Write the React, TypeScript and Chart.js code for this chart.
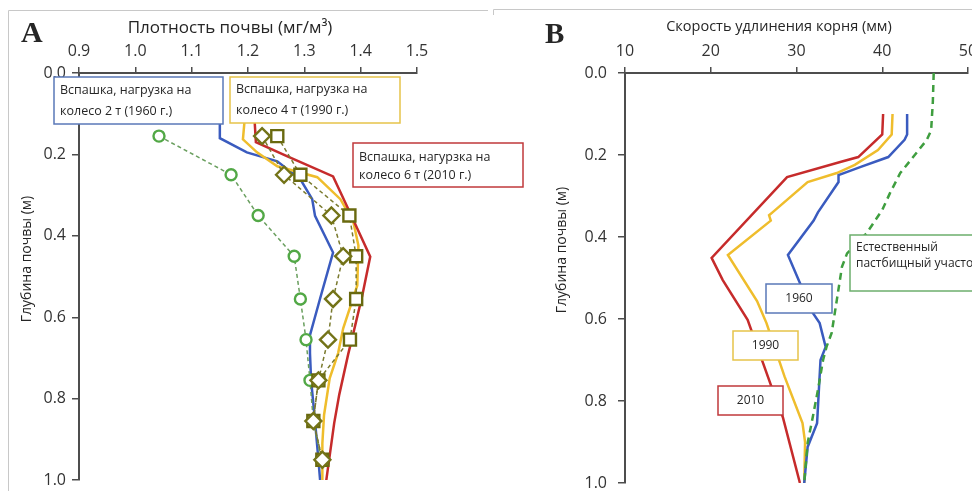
import React, { useEffect, useRef } from 'react';
import { Chart, registerables } from 'chart.js';

Chart.register(...registerables);

// ---------- Panel A: soil density (Mg/m3) vs depth (m) ----------
const densityTicks = [0.9, 1.0, 1.1, 1.2, 1.3, 1.4, 1.5];
const depthTicks = [0.0, 0.2, 0.4, 0.6, 0.8, 1.0];

const depth1960A = [0.10, 0.16, 0.195, 0.217, 0.261, 0.31, 0.351, 0.441, 0.554, 0.644, 0.688, 0.755, 0.855, 0.95, 1.0];
const density1960 = [1.150, 1.150, 1.198, 1.252, 1.293, 1.314, 1.319, 1.351, 1.328, 1.310, 1.310, 1.312, 1.319, 1.325, 1.328];

const depth1990A = [0.10, 0.163, 0.195, 0.229, 0.256, 0.31, 0.366, 0.424, 0.522, 0.627, 0.688, 0.75, 0.84, 0.91, 1.0];
const density1990 = [1.195, 1.191, 1.216, 1.252, 1.323, 1.364, 1.387, 1.396, 1.394, 1.369, 1.360, 1.345, 1.335, 1.332, 1.332];

const depth2010A = [0.10, 0.17, 0.205, 0.254, 0.334, 0.451, 0.546, 0.639, 0.69, 0.79, 0.86, 1.0];
const density2010 = [1.211, 1.214, 1.270, 1.351, 1.378, 1.417, 1.403, 1.387, 1.378, 1.362, 1.353, 1.339];

const markerDepths = [0.155, 0.25, 0.35, 0.45, 0.555, 0.655, 0.755, 0.855, 0.95];
const circleDensity = [1.042, 1.170, 1.218, 1.282, 1.293, 1.303, 1.310, 1.316, 1.330];
const diamondDensity = [1.225, 1.264, 1.348, 1.369, 1.351, 1.342, 1.325, 1.316, 1.332];
const squareDensity = [1.252, 1.293, 1.380, 1.392, 1.392, 1.381, 1.325, 1.316, 1.332];

// ---------- Panel B: root elongation (mm) vs depth (m) ----------
const rootTicks = [10, 20, 30, 40, 50];

const depthPasture = [0.0, 0.07, 0.14, 0.163, 0.205, 0.244, 0.293, 0.334, 0.39, 0.44, 0.473, 0.554, 0.634, 0.668, 0.70, 0.773, 0.839, 0.902, 1.0];
const rootPasture = [46.0, 45.9, 45.7, 45.2, 43.6, 42.1, 40.9, 40.0, 38.2, 35.9, 35.3, 34.7, 34.1, 33.5, 33.1, 32.5, 31.9, 31.3, 30.9];

const depth1960B = [0.10, 0.15, 0.163, 0.205, 0.229, 0.249, 0.266, 0.34, 0.36, 0.444, 0.512, 0.585, 0.61, 0.668, 0.70, 0.854, 0.912, 1.0];
const root1960 = [42.9, 42.9, 42.6, 40.7, 37.5, 34.9, 34.9, 32.5, 32.0, 29.0, 30.4, 31.9, 32.7, 33.4, 32.8, 32.4, 31.3, 30.9];

const depth1990B = [0.10, 0.15, 0.188, 0.224, 0.244, 0.266, 0.34, 0.347, 0.36, 0.444, 0.556, 0.61, 0.74, 0.854, 0.90, 1.0];
const root1990 = [41.2, 41.1, 39.5, 36.8, 34.7, 31.3, 27.2, 26.8, 27.0, 22.0, 25.4, 26.5, 28.6, 30.7, 31.0, 30.9];

const depth2010B = [0.10, 0.15, 0.205, 0.217, 0.254, 0.451, 0.505, 0.602, 0.766, 0.839, 1.0];
const root2010 = [40.1, 40.0, 37.2, 35.1, 28.9, 20.1, 21.4, 24.3, 27.1, 28.4, 30.4];

// ---------- Text ----------
const titleA = 'Плотность почвы (мг/м³)';
const titleB = 'Скорость удлинения корня (мм)';
const depthTitle = 'Глубина почвы (м)';
const label1960A = ['Вспашка, нагрузка на', 'колесо 2 т (1960 г.)'];
const label1990A = ['Вспашка, нагрузка на', 'колесо 4 т (1990 г.)'];
const label2010A = ['Вспашка, нагурзка на', 'колесо 6 т (2010 г.)'];
const labelPasture = ['Естественный', 'пастбищный участок'];

const FONT = '"Open Sans", "DejaVu Sans", sans-serif';
const SERIF = '"Liberation Serif", "DejaVu Serif", serif';
const BLUE = '#3a5bbf';
const YELLOW = '#efbd2c';
const RED = '#c62b2b';
const GREEN = '#52a846';
const OLIVE = '#69690f';
const AXIS = '#4d4d4d';

Chart.defaults.font.family = FONT;

const zip = (xs: number[], ys: number[]) => xs.map((x, i) => ({ x, y: ys[i] }));

type Box = { x: number; y: number; w: number; h: number; color: string; lines: string[]; ty: number[]; center?: boolean; size: number };
type Txt = { text: string; x: number; y: number; font: string; align: CanvasTextAlign; baseline: CanvasTextBaseline; rotate?: boolean };

function overlay(id: string, boxes: Box[], texts: Txt[], frame: (ctx: CanvasRenderingContext2D) => void) {
  return {
    id,
    afterDraw(chart: any) {
      const ctx: CanvasRenderingContext2D = chart.ctx;
      ctx.save();
      frame(ctx);
      for (const b of boxes) {
        ctx.fillStyle = '#ffffff';
        ctx.fillRect(b.x, b.y, b.w, b.h);
        ctx.strokeStyle = b.color;
        ctx.lineWidth = 1.5;
        ctx.strokeRect(b.x, b.y, b.w, b.h);
        ctx.fillStyle = '#262626';
        ctx.font = `${b.size}px ${FONT}`;
        ctx.textBaseline = 'middle';
        ctx.textAlign = b.center ? 'center' : 'left';
        b.lines.forEach((l, i) => ctx.fillText(l, b.center ? b.x + b.w / 2 : b.x + 6, b.ty[i]));
      }
      for (const t of texts) {
        ctx.save();
        ctx.fillStyle = '#262626';
        ctx.font = t.font;
        ctx.textAlign = t.align;
        ctx.textBaseline = t.baseline;
        ctx.translate(t.x, t.y);
        if (t.rotate) ctx.rotate(-Math.PI / 2);
        ctx.fillText(t.text, 0, 0);
        ctx.restore();
      }
      ctx.restore();
    },
  };
}

function scales(xmin: number, xmax: number, xTicks: number[], digits: number, yWidth: number, yPad: number) {
  return {
    x: {
      type: 'linear',
      position: 'top',
      min: xmin,
      max: xmax,
      afterBuildTicks: (s: any) => { s.ticks = xTicks.map((v) => ({ value: v })); },
      afterFit: (s: any) => { s.height = 73; s.paddingLeft = 0; s.paddingRight = 0; },
      ticks: { color: '#333', font: { size: 16, family: FONT }, padding: 6, maxRotation: 0, autoSkip: false,
        callback: (v: any) => Number(v).toFixed(digits) },
      grid: { drawOnChartArea: false, drawTicks: true, tickLength: 6, color: AXIS, lineWidth: 1.5 },
      border: { display: true, color: AXIS, width: 2 },
    },
    y: {
      type: 'linear',
      reverse: true,
      min: 0,
      max: 1,
      afterBuildTicks: (s: any) => { s.ticks = depthTicks.map((v) => ({ value: v })); },
      afterFit: (s: any) => { s.width = yWidth; s.paddingTop = 0; s.paddingBottom = 0; },
      ticks: { color: '#333', font: { size: 16, family: FONT }, padding: yPad, autoSkip: false,
        callback: (v: any) => Number(v).toFixed(1) },
      grid: { drawOnChartArea: false, drawTicks: true, tickLength: 7, color: AXIS, lineWidth: 1.5 },
      border: { display: true, color: AXIS, width: 2 },
    },
  };
}

const lineDs = (data: any, color: string, order: number, width = 2.5, dash: number[] = []) => ({
  data, borderColor: color, borderWidth: width, borderDash: dash, pointRadius: 0, showLine: true, order, tension: 0, fill: false,
});

const markerDs = (data: any, lineColor: string, color: string, style: string, radius: number, order: number) => ({
  data, borderColor: lineColor, borderWidth: 1.5, borderDash: [4, 3], showLine: true, order, tension: 0, fill: false,
  pointStyle: style, pointRadius: radius, pointBorderWidth: 2.4, pointBorderColor: color, pointBackgroundColor: '#ffffff',
});

export default function App() {
  const refA = useRef<HTMLCanvasElement>(null);
  const refB = useRef<HTMLCanvasElement>(null);

  useEffect(() => {
    document.body.style.margin = '0';
    const boxesA: Box[] = [
      { x: 54, y: 77, w: 169, h: 47, color: '#5a78b8', lines: label1960A, ty: [90, 111], size: 12.5 },
      { x: 230, y: 77, w: 170, h: 46, color: '#e6c34a', lines: label1990A, ty: [89, 110], size: 12.5 },
      { x: 353, y: 143, w: 170, h: 44, color: '#c0393b', lines: label2010A, ty: [157, 175], size: 12.5 },
    ];
    const textsA: Txt[] = [
      { text: 'A', x: 21, y: 42, font: `bold 30px ${SERIF}`, align: 'left', baseline: 'alphabetic' },
      { text: titleA, x: 230, y: 28, font: `17px ${FONT}`, align: 'center', baseline: 'middle' },
      { text: depthTitle, x: 27, y: 259, font: `14px ${FONT}`, align: 'center', baseline: 'middle', rotate: true },
    ];
    const frameA = (ctx: CanvasRenderingContext2D) => {
      ctx.strokeStyle = '#c8c8c8';
      ctx.lineWidth = 1;
      ctx.beginPath();
      ctx.moveTo(8.5, 491); ctx.lineTo(8.5, 10.5); ctx.lineTo(488, 10.5);
      ctx.stroke();
    };
    const chartA = new Chart(refA.current!, {
      type: 'scatter',
      data: {
        datasets: [
          markerDs(zip(circleDensity, markerDepths), '#6a9f5f', GREEN, 'circle', 5.5, 2),
          markerDs(zip(diamondDensity, markerDepths), '#7a7a2e', '#737318', 'rectRot', 8, 0),
          markerDs(zip(squareDensity, markerDepths), '#7a7a2e', OLIVE, 'rect', 8.5, 1),
          lineDs(zip(density1960, depth1960A), BLUE, 5),
          lineDs(zip(density1990, depth1990A), YELLOW, 4),
          lineDs(zip(density2010, depth2010A), RED, 3),
        ] as any,
      },
      options: {
        animation: false,
        responsive: false,
        maintainAspectRatio: false,
        events: [],
        layout: { padding: { left: 0, top: 0, right: 540 - 417, bottom: 8 } },
        plugins: { legend: { display: false }, tooltip: { enabled: false } },
        scales: scales(0.9, 1.5, densityTicks, 1, 79, 6) as any,
      },
      plugins: [overlay('ovA', boxesA, textsA, frameA)],
    });

    const off = 490;
    const boxesB: Box[] = [
      { x: 850 - off, y: 235, w: 140, h: 56, color: '#6cae6c', lines: labelPasture, ty: [248, 264], size: 12 },
      { x: 766 - off, y: 284, w: 66, h: 29, color: '#5a78b8', lines: ['1960'], ty: [299], center: true, size: 12 },
      { x: 733 - off, y: 331, w: 65, h: 29, color: '#e6c34a', lines: ['1990'], ty: [346], center: true, size: 12 },
      { x: 718 - off, y: 386, w: 65, h: 29, color: '#c0393b', lines: ['2010'], ty: [401], center: true, size: 12 },
    ];
    const textsB: Txt[] = [
      { text: 'B', x: 545 - off, y: 43, font: `bold 29px ${SERIF}`, align: 'left', baseline: 'alphabetic' },
      { text: titleB, x: 779 - off, y: 27, font: `14.5px ${FONT}`, align: 'center', baseline: 'middle' },
      { text: depthTitle, x: 562 - off, y: 250, font: `14px ${FONT}`, align: 'center', baseline: 'middle', rotate: true },
    ];
    const frameB = (ctx: CanvasRenderingContext2D) => {
      ctx.strokeStyle = '#c8c8c8';
      ctx.lineWidth = 1;
      ctx.beginPath();
      ctx.moveTo(3.5, 15); ctx.lineTo(3.5, 9.5); ctx.lineTo(482, 9.5);
      ctx.stroke();
    };
    const chartB = new Chart(refB.current!, {
      type: 'scatter',
      data: {
        datasets: [
          lineDs(zip(rootPasture, depthPasture), '#3f9e3f', 0, 2.5, [7, 5]),
          lineDs(zip(root1960, depth1960B), BLUE, 1),
          lineDs(zip(root1990, depth1990B), YELLOW, 2),
          lineDs(zip(root2010, depth2010B), RED, 3),
        ] as any,
      },
      options: {
        animation: false,
        responsive: false,
        maintainAspectRatio: false,
        events: [],
        layout: { padding: { left: 0, top: 0, right: 482 - 478, bottom: 8 } },
        plugins: { legend: { display: false }, tooltip: { enabled: false } },
        scales: scales(10, 50, rootTicks, 0, 135, 11) as any,
      },
      plugins: [overlay('ovB', boxesB, textsB, frameB)],
    });

    return () => { chartA.destroy(); chartB.destroy(); };
  }, []);

  return (
    <div style={{ position: 'fixed', left: 0, top: 0, width: 972, height: 491, overflow: 'hidden', background: '#fff' }}>
      <canvas ref={refA} width={540} height={491} style={{ position: 'absolute', left: 0, top: 0 }} />
      <canvas ref={refB} width={482} height={491} style={{ position: 'absolute', left: 490, top: 0 }} />
    </div>
  );
}
